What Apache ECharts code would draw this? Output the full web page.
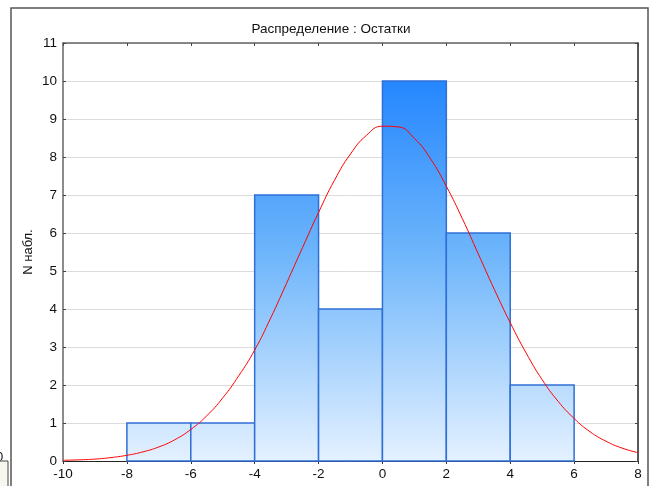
<!DOCTYPE html>
<html><head><meta charset="utf-8">
<script src="https://cdn.jsdelivr.net/npm/echarts@6/dist/echarts.min.js"></script>
<style>html,body{margin:0;padding:0;background:#fff}#c{width:652px;height:486px}</style>
</head><body><div id="c"></div>
<script>
// Histogram bins (lower, upper) and counts
const binStarts = [-8, -6, -4, -2, 0, 2, 4];
const binWidth = 2;
const counts = [1, 1, 7, 4, 10, 6, 2];
// Expected normal curve
const curveX = [-10,-9.5,-9,-8.5,-8,-7.5,-7,-6.5,-6,-5.5,-5,-4.5,-4,-3.5,-3,-2.5,-2,-1.5,-1,-0.5,0,0.5,1,1.5,2,2.5,3,3.5,4,4.5,5,5.5,6,6.5,7,7.5,8];
const curveY = [0.02,0.03,0.05,0.09,0.15,0.24,0.37,0.56,0.83,1.19,1.66,2.24,2.92,3.76,4.68,5.62,6.54,7.39,8.08,8.57,8.81,8.79,8.49,7.96,7.23,6.38,5.45,4.52,3.64,2.84,2.14,1.57,1.12,0.77,0.52,0.34,0.22];
const xTicks = [-10,-8,-6,-4,-2,0,2,4,6,8];
const yTicks = [0,1,2,3,4,5,6,7,8,9,10,11];

const chart = echarts.init(document.getElementById('c'), null, {renderer:'canvas'});
const G = {left:63, right:14, top:43, bottom:25};
const barGrad = new echarts.graphic.LinearGradient(0, 43, 0, 461, [
  {offset:0, color:'#157cff'},
  {offset:0.5, color:'#6db5fb'},
  {offset:1, color:'#e4f1ff'}
], true);

const histData = binStarts.map((s,i)=>[s, s+binWidth, counts[i]]);
const font = 'Liberation Sans, Arial, sans-serif';

chart.setOption({
  animation:false,
  title:{text:'Распределение : Остатки', left:326, top:17, textAlign:'center',
    textStyle:{fontFamily:font, fontSize:13.5, fontWeight:'normal', color:'#111'}},
  grid:G,
  xAxis:[{type:'value', min:-10, max:8, interval:2,
    axisLine:{show:true, onZero:false, lineStyle:{color:'#222', width:1}},
    axisTick:{show:true, inside:false, length:3, lineStyle:{color:'#333'}},
    axisLabel:{fontFamily:font, fontSize:13.5, color:'#111', margin:6},
    splitLine:{show:false}},
    {type:'value', position:'top', min:-10, max:8, interval:2,
    axisLine:{show:true, onZero:false, lineStyle:{color:'#666', width:1.5}},
    axisTick:{show:true, inside:true, length:3, lineStyle:{color:'#444'}},
    axisLabel:{show:false}, splitLine:{show:false}}],
  yAxis:[{type:'value', min:0, max:11, interval:1,
    name:'N набл.', nameLocation:'middle', nameGap:28, nameRotate:90, nameMoveOverlap:false,
    nameTextStyle:{fontFamily:font, fontSize:13, color:'#111'},
    axisLine:{show:true, onZero:false, lineStyle:{color:'#666', width:1.5}},
    axisTick:{show:true, inside:true, length:3, lineStyle:{color:'#444'}},
    axisLabel:{fontFamily:font, fontSize:13.5, color:'#111', margin:6},
    splitLine:{show:true, lineStyle:{color:'#dcdcdc', width:1}}},
    {type:'value', position:'right', min:0, max:11, interval:1,
    axisLine:{show:true, onZero:false, lineStyle:{color:'#222', width:1.5}},
    axisTick:{show:true, inside:true, length:3, lineStyle:{color:'#444'}},
    axisLabel:{show:false}, splitLine:{show:false}}],
  series:[
    {type:'custom', xAxisIndex:0, yAxisIndex:0, data:histData, z:2,
      renderItem:function(params, api){
        const p0 = api.coord([api.value(0), api.value(2)]);
        const p1 = api.coord([api.value(1), 0]);
        return {type:'rect', shape:{x:p0[0], y:p0[1], width:p1[0]-p0[0], height:p1[1]-p0[1]},
          style:{fill:barGrad, stroke:'#2f6fd6', lineWidth:1.5}};
      }},
    {type:'line', xAxisIndex:0, yAxisIndex:0, data:curveX.map((x,i)=>[x,curveY[i]]),
      smooth:true, showSymbol:false, z:5,
      lineStyle:{color:'#ff0000', width:1}}
  ],
  graphic:[
    {type:'polyline', shape:{points:[[11,486],[11,8],[648,8],[648,486]]}, style:{stroke:'#555', lineWidth:1.5, fill:null}, silent:true},
    {type:'text', left:-4, top:451, style:{text:'0', font:'13px '+font, fill:'#111'}},
    {type:'rect', shape:{x:-2, y:461, width:10, height:26}, style:{fill:'#f7f7ef', stroke:'#444', lineWidth:1}}
  ]
});
</script></body></html>
